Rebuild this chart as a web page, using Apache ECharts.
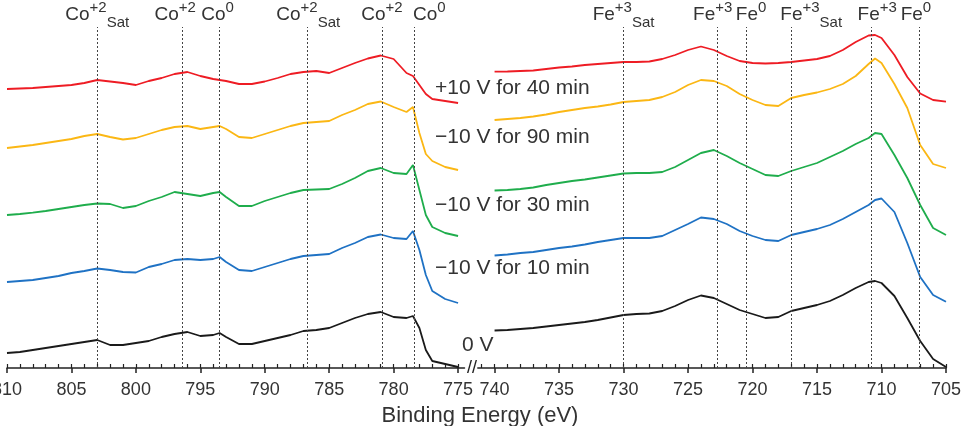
<!DOCTYPE html>
<html><head><meta charset="utf-8">
<script src="https://cdn.jsdelivr.net/npm/echarts@6/dist/echarts.min.js"></script>
<style>html,body{margin:0;padding:0;background:#fff}#c{width:969px;height:426px}</style>
</head><body><div id="c"></div>
<script>
// ---- Data ----
const coEnergy = [810,809,808,807,806,805,804,803,802,801,800,799,798,797,796,795,794,793.5,793,792,791,790,789,788,787,786,785,784,783,782,781,780,779,778.5,778,777.5,777,776,775];
const coBlack  = [15,16,18,20,22,24,26,28,23,23,25,27,31,34,36,32,33,35,31,24,24,27,30,33,37,38,40,45,50,54,56,51,50,52,40,18,7,4,1];
const coBlue   = [86,87,88,90,92,95,97,99.5,98,96,95.5,101,104,108,109,108,109,111,106,98,97,101,105,109,112,113,114,120,125,131,133.5,130,129,137,118,93,77,69,65];
const coGreen  = [153,154,155.3,157,159,161,163,164.5,164,160,162,167,171,176,174,172,175,176,171,162,162,167,171,175,178,178.5,179,184,190,197,200,195,194,203,178,153,141,135,132];
const coYellow = [220,221.5,223,225,227,229,232,234,231,228.5,230,234,238,241,242,239,241,242,239,231,230,234,238,242,245,246,247,253,258,264,266.5,261,256,261,235,214,207,201,198];
const coRed    = [279,279.5,280,281,282,283,285,288,286.5,285,283,287,290,294,296,292,289,288,287,284,284,286.5,290,294,296,297,295,300,305,309.5,312.5,309,295,292,283,274,269,267,265];

const feEnergy = [740,739,738,737,736,735,734,733,732,731,730,729,728,727,726,725,724,723,722,721,720,719,718,717,716,715,714,713,712,711,710.5,710,709,708,707,706,705];
const feBlack  = [37.5,38,39,40,41.5,43,44.5,46,48,50.5,53,54,54.5,57,62,68,72.5,70,64,58,54,50,51,57,60,63,67,73,80,86,87,85,72,50,27,9,1];
const feBlue   = [112.5,113.5,115,116,118,120,121.5,123.5,126,128,130,130,130,132,138,144,150.5,149,144,137,132,128,127,133,136,139,143,149,156,163,168,169.5,156,125,91,73,66.3];
const feGreen  = [177.5,178,179,180.5,183,185,187,188.5,190.5,192.5,194.5,195,195,196,201,208,215,218,212,205,199,193,192,197,201,205,211,217,224,230,235,234,213,190,163,140,133];
const feYellow = [248,249,250,251.5,253.5,256,258,260,261.5,263.5,266,267,268,271,276,283,288,287,282,274,268,263,262,270,273,275.5,279,284,292,304,309.5,305,284,260,223,204,200];
const feRed    = [296.3,296.5,297,297.5,299,300.5,301.5,303,304,305,306,306,306.5,309,313,318,321.5,318,312,307,305,304.5,305,306,307.5,309,312,318,326,332.5,333,330,313,291,274.5,268,266.3];

const traceNames = ['0 V','\u221210 V for 10 min','\u221210 V for 30 min','\u221210 V for 90 min','+10 V for 40 min'];
const coPeaks = [803, 796.4, 793.5, 786.7, 780.9, 778.4];
const coPeakEl = ['Co','Co','Co','Co','Co','Co'];
const coPeakSup = ['+2','+2','0','+2','+2','0'];
const coPeakSub = ['Sat','','','Sat','',''];
const fePeaks = [730, 722.7, 720.5, 717, 710.8, 707.1];
const fePeakEl = ['Fe','Fe','Fe','Fe','Fe','Fe'];
const fePeakSup = ['+3','+3','0','+3','+3','0'];
const fePeakSub = ['Sat','','','Sat','',''];
const coTicks = [810,805,800,795,790,785,780,775];
const feTicks = [740,735,730,725,720,715,710,705];
const axisTitle = 'Binding Energy (eV)';

// ---- Styles ----
const FONT = '"Liberation Sans", Arial, sans-serif';
const TXT = '#333';
const colors = ['#1a1a1a','#1f72c4','#1fad4c','#fbb714','#ee1c24'];
const coShift = [0,-7,-2,1,0,15];
const feShift = [0,-5,5,20,6,-3];
const annot = [
  {text: traceNames[4], x: 435, y: 88},
  {text: traceNames[3], x: 435, y: 137},
  {text: traceNames[2], x: 435, y: 205},
  {text: traceNames[1], x: 435, y: 268},
  {text: traceNames[0], x: 462, y: 345}
];

const coMinor = []; for (let e = 775; e <= 810; e++) coMinor.push(e);
const feMinor = []; for (let e = 705; e <= 741; e++) feMinor.push(e);

const rich = {
  b: {fontSize: 19, fontFamily: FONT, color: TXT, lineHeight: 30},
  sup: {fontSize: 15, fontFamily: FONT, color: TXT, lineHeight: 20, verticalAlign: 'top'},
  sub: {fontSize: 15, fontFamily: FONT, color: TXT, lineHeight: 17, verticalAlign: 'bottom'}
};

function peakLine(peaks, els, sups, subs, shifts) {
  return {
    silent: true,
    symbol: ['none','none'],
    animation: false,
    lineStyle: {color: '#444', type: [2,2], width: 1},
    label: {show: true, position: 'end', distance: 0, rich: rich,
      formatter: p => '{b|' + els[p.dataIndex] + '}{sup|' + sups[p.dataIndex] + '}' + (subs[p.dataIndex] ? '{sub|' + subs[p.dataIndex] + '}' : '')},
    data: peaks.map((v, i) => ({xAxis: v, label: {offset: [shifts[i], 3]}}))
  };
}

function mainAxis(grid, min, max, ticks) {
  return {gridIndex: grid, type: 'value', min: min, max: max, inverse: true, position: 'bottom',
    axisLine: {show: true, onZero: false, lineStyle: {color: '#222', width: 1.5}},
    axisTick: {show: true, length: 5, customValues: ticks, lineStyle: {color: '#222', width: 1.5}},
    axisLabel: {customValues: ticks, margin: 13, fontSize: 18, color: TXT, fontFamily: FONT, hideOverlap: false},
    splitLine: {show: false}};
}
function minorAxis(grid, min, max, ticks) {
  return {gridIndex: grid, type: 'value', min: min, max: max, inverse: true, position: 'bottom',
    axisLine: {show: false, onZero: false},
    axisTick: {show: true, inside: true, length: 4, customValues: ticks, lineStyle: {color: '#222', width: 1.2}},
    axisLabel: {show: false}, splitLine: {show: false}};
}

function pairs(xs, ys) { return xs.map((x, i) => [x, ys[i]]); }

const coSets = [coBlack, coBlue, coGreen, coYellow, coRed];
const feSets = [feBlack, feBlue, feGreen, feYellow, feRed];
const series = [];
coSets.forEach((d, k) => series.push({type: 'line', xAxisIndex: 0, yAxisIndex: 0, name: traceNames[k],
  data: pairs(coEnergy, d), symbol: 'none', lineStyle: {color: colors[k], width: 1.8}, itemStyle: {color: colors[k]},
  markLine: k === 0 ? peakLine(coPeaks, coPeakEl, coPeakSup, coPeakSub, coShift) : undefined}));
feSets.forEach((d, k) => series.push({type: 'line', xAxisIndex: 2, yAxisIndex: 1, name: traceNames[k],
  data: pairs(feEnergy, d), symbol: 'none', lineStyle: {color: colors[k], width: 1.8}, itemStyle: {color: colors[k]},
  markLine: k === 0 ? peakLine(fePeaks, fePeakEl, fePeakSup, fePeakSub, feShift) : undefined}));

const chart = echarts.init(document.getElementById('c'), null, {renderer: 'canvas'});
chart.setOption({
  animation: false,
  backgroundColor: '#fff',
  grid: [
    {left: 7, top: 27, width: 457.5, height: 341, containLabel: false, outerBoundsMode: 'none'},
    {left: 477.8, top: 27, width: 468.2, height: 341, containLabel: false, outerBoundsMode: 'none'}
  ],
  xAxis: [
    mainAxis(0, 774.5, 810, coTicks), minorAxis(0, 774.5, 810, coMinor),
    mainAxis(1, 705, 741.3, feTicks), minorAxis(1, 705, 741.3, feMinor)
  ],
  yAxis: [
    {gridIndex: 0, type: 'value', min: 0, max: 341, show: false},
    {gridIndex: 1, type: 'value', min: 0, max: 341, show: false}
  ],
  series: series,
  graphic: annot.map(a => ({type: 'text', x: a.x, y: a.y, silent: true,
      style: {text: a.text, font: '21px ' + FONT, fill: TXT, verticalAlign: 'middle', align: 'left'}}))
    .concat([
      {type: 'text', x: 480, y: 416, silent: true, style: {text: axisTitle, font: '22px ' + FONT, fill: TXT, align: 'center', verticalAlign: 'middle'}},
      {type: 'text', x: 472, y: 368, silent: true, style: {text: '//', font: '18px ' + FONT, fill: '#222', align: 'center', verticalAlign: 'middle'}}
    ])
});
</script></body></html>
